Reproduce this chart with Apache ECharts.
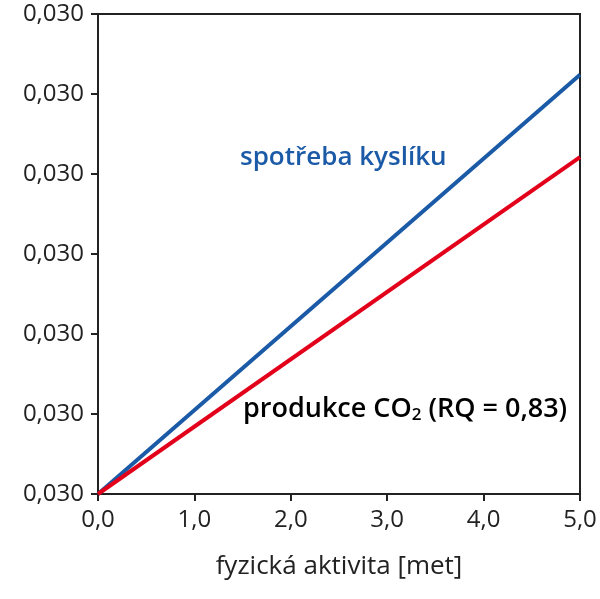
<!DOCTYPE html>
<html><head><meta charset="utf-8">
<script src="https://cdn.jsdelivr.net/npm/echarts@6/dist/echarts.min.js"></script>
<style>html,body{margin:0;padding:0;background:#fff}#c{width:600px;height:599px}</style>
</head><body><div id="c"></div>
<script>
const xValues = [0, 5];
const oxygen = [0, 5.24];
const co2 = [0, 4.21];
const yTickLabel = '0,030';
const xTitle = 'fyzická aktivita [met]';
const blueLabel = 'spotřeba kyslíku';
const F = '"Open Sans", sans-serif';
const chart = echarts.init(document.getElementById('c'));
chart.setOption({
  animation: false,
  grid: {left: 98, right: 20, top: 14, bottom: 105, show: true, borderColor: '#222', borderWidth: 2},
  xAxis: {type: 'value', min: 0, max: 5, interval: 1,
    axisLine: {show: true, lineStyle: {color: '#222', width: 2}},
    axisTick: {show: true, length: 7, lineStyle: {color: '#222', width: 2}},
    splitLine: {show: false},
    axisLabel: {formatter: v => v.toFixed(1).replace('.', ','), fontSize: 24, fontWeight: 500, color: '#222', fontFamily: F, margin: 14},
    name: xTitle, nameLocation: 'middle', nameGap: 60,
    nameTextStyle: {fontSize: 26, fontWeight: 500, color: '#222', fontFamily: F}},
  yAxis: {type: 'value', min: 0, max: 6, interval: 1,
    axisLine: {show: true, lineStyle: {color: '#222', width: 2}},
    axisTick: {show: true, length: 7, lineStyle: {color: '#222', width: 2}},
    splitLine: {show: false},
    axisLabel: {formatter: () => yTickLabel, fontSize: 24, fontWeight: 500, color: '#222', fontFamily: F, margin: 14}},
  series: [
    {type: 'line', data: xValues.map((x, i) => [x, oxygen[i]]), symbol: 'none', lineStyle: {color: '#1a5aa6', width: 4}},
    {type: 'line', data: xValues.map((x, i) => [x, co2[i]]), symbol: 'none', lineStyle: {color: '#e2001a', width: 4}}
  ],
  graphic: [
    {type: 'text', left: 240, top: 145, style: {text: blueLabel, fill: '#1a5aa6', font: '600 26px ' + F}},
    {type: 'text', left: 243, top: 396, style: {
      text: '{a|produkce CO}{s|2}{a| (RQ = 0,83)}',
      rich: {a: {fontSize: 27, fontWeight: 600, fontFamily: F, color: '#e2001a'},
             s: {fontSize: 17, fontWeight: 600, fontFamily: F, color: '#e2001a', padding: [12, 0, 0, 0]}}}}
  ]
});
</script></body></html>
